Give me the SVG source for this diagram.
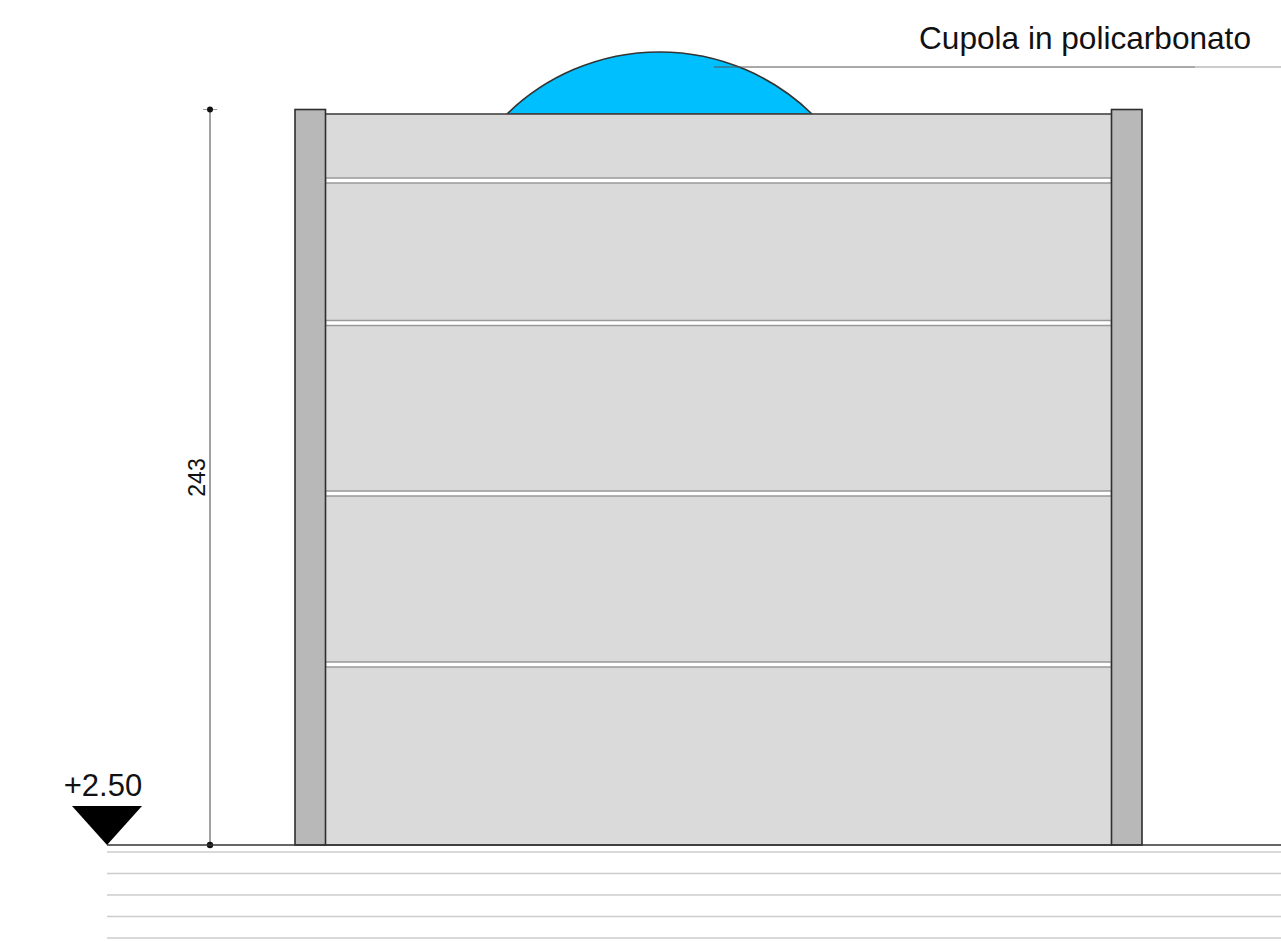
<svg xmlns="http://www.w3.org/2000/svg" width="1281" height="941" viewBox="0 0 1281 941">
<style>
text{font-family:"Liberation Sans",Arial,sans-serif;fill:#111}
.gap{fill:#fff;stroke:#999;stroke-width:1.5}
.h{stroke:#ccc;stroke-width:1.6;fill:none}
.post{fill:#b8b8b8;stroke:#2e2e2e;stroke-width:1.6}
</style>
<rect width="1281" height="941" fill="#fff"/>
<g id="hatching">
<line class="h" x1="107" y1="852" x2="1281" y2="852" stroke-width="2"/>
<line class="h" x1="107" y1="873.5" x2="1281" y2="873.5"/>
<line class="h" x1="107" y1="895" x2="1281" y2="895"/>
<line class="h" x1="107" y1="916.5" x2="1281" y2="916.5"/>
<line class="h" x1="107" y1="938" x2="1281" y2="938"/>
</g>
<g id="dome">
<path d="M507 114A218.5 218.5 0 0 1 812 114Z" fill="#00bfff" stroke="#333" stroke-width="1.6"/>
</g>
<g id="wall">
<rect x="325" y="114" width="787" height="731" fill="#dadada" stroke="#444" stroke-width="1.6"/>
<rect class="gap" x="325.500" y="178" width="786" height="5"/>
<rect class="gap" x="325.500" y="320.500" width="786" height="5"/>
<rect class="gap" x="325.500" y="491" width="786" height="5"/>
<rect class="gap" x="325.500" y="662" width="786" height="5"/>
</g>
<g id="post-left"><rect class="post" x="295" y="109.500" width="30.500" height="735.500"/></g>
<g id="post-right"><rect class="post" x="1111.500" y="109.500" width="30.500" height="735.500"/></g>
<g id="connectors">
<line x1="714" y1="67" x2="1195" y2="67" stroke="#555" stroke-width="1.1"/>
<line x1="1195" y1="67" x2="1281" y2="67" stroke="#999" stroke-width="1.1"/>
<line x1="210" y1="109" x2="210" y2="845" stroke="#444" stroke-width="1"/>
<line x1="203" y1="109.500" x2="217" y2="109.500" stroke="#999" stroke-width="1"/>
<circle cx="210" cy="109.500" r="3" fill="#111"/>
<circle cx="210" cy="845" r="3.200" fill="#111"/>
<line x1="107" y1="845" x2="1281" y2="845" stroke="#333" stroke-width="1.6"/>
</g>
<g id="level-marker">
<polygon points="72,806 142,806 107,845" fill="#000"/>
<text x="103" y="795.500" font-size="31" text-anchor="middle">+2.50</text>
</g>
<g id="dimension-label">
<text transform="translate(205 477.500) rotate(-90)" font-size="23" text-anchor="middle">243</text>
</g>
<g id="dome-label">
<text x="919" y="48.500" font-size="31.600">Cupola in policarbonato</text>
</g>
</svg>
